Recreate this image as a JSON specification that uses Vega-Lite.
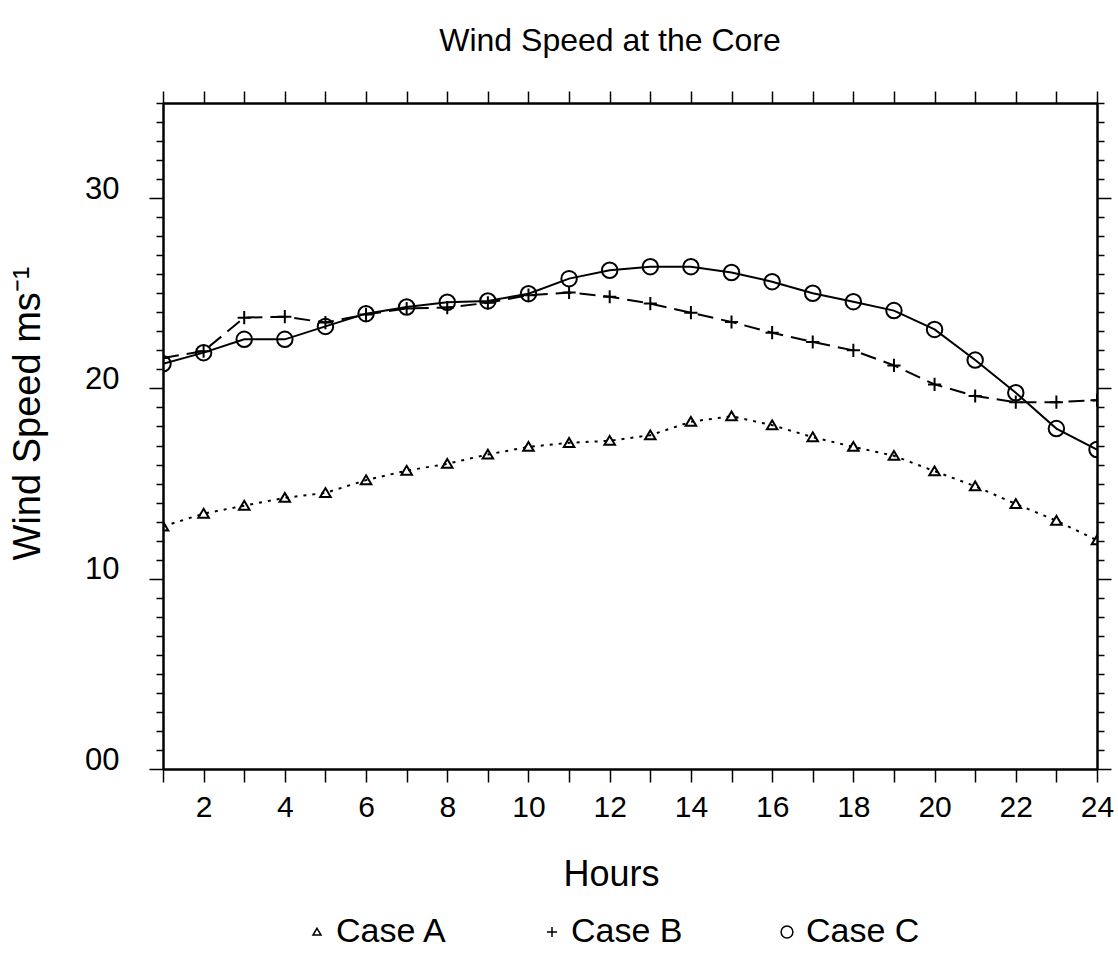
{
  "$schema": "https://vega.github.io/schema/vega-lite/v6.json",
  "autosize": "none",
  "width": 934,
  "height": 666,
  "padding": {"left": 163, "top": 103, "right": 21, "bottom": 185},
  "background": "white",
  "title": {
    "text": "Wind Speed at the Core",
    "font": "Liberation Sans",
    "fontSize": 32,
    "fontWeight": "normal",
    "color": "black",
    "anchor": "middle",
    "baseline": "alphabetic",
    "offset": -5,
    "dx": -20
  },
  "config": {
    "view": {"stroke": null},
    "axis": {"domainColor": "black", "tickColor": "black", "labelColor": "black", "titleColor": "black", "grid": false}
  },
  "data": {
    "values": [
      {"hour": 1, "case": "Case A", "speed": 12.75}, {"hour": 2, "case": "Case A", "speed": 13.42}, {"hour": 3, "case": "Case A", "speed": 13.84}, {"hour": 4, "case": "Case A", "speed": 14.25}, {"hour": 5, "case": "Case A", "speed": 14.51}, {"hour": 6, "case": "Case A", "speed": 15.18}, {"hour": 7, "case": "Case A", "speed": 15.68}, {"hour": 8, "case": "Case A", "speed": 16.04}, {"hour": 9, "case": "Case A", "speed": 16.53}, {"hour": 10, "case": "Case A", "speed": 16.93}, {"hour": 11, "case": "Case A", "speed": 17.14}, {"hour": 12, "case": "Case A", "speed": 17.25}, {"hour": 13, "case": "Case A", "speed": 17.54}, {"hour": 14, "case": "Case A", "speed": 18.25}, {"hour": 15, "case": "Case A", "speed": 18.54}, {"hour": 16, "case": "Case A", "speed": 18.07}, {"hour": 17, "case": "Case A", "speed": 17.44}, {"hour": 18, "case": "Case A", "speed": 16.93}, {"hour": 19, "case": "Case A", "speed": 16.46}, {"hour": 20, "case": "Case A", "speed": 15.65}, {"hour": 21, "case": "Case A", "speed": 14.86}, {"hour": 22, "case": "Case A", "speed": 13.93}, {"hour": 23, "case": "Case A", "speed": 13.05}, {"hour": 24, "case": "Case A", "speed": 12.02},
      {"hour": 1, "case": "Case B", "speed": 21.6}, {"hour": 2, "case": "Case B", "speed": 21.96}, {"hour": 3, "case": "Case B", "speed": 23.72}, {"hour": 4, "case": "Case B", "speed": 23.77}, {"hour": 5, "case": "Case B", "speed": 23.46}, {"hour": 6, "case": "Case B", "speed": 23.89}, {"hour": 7, "case": "Case B", "speed": 24.2}, {"hour": 8, "case": "Case B", "speed": 24.25}, {"hour": 9, "case": "Case B", "speed": 24.5}, {"hour": 10, "case": "Case B", "speed": 24.9}, {"hour": 11, "case": "Case B", "speed": 25.04}, {"hour": 12, "case": "Case B", "speed": 24.82}, {"hour": 13, "case": "Case B", "speed": 24.46}, {"hour": 14, "case": "Case B", "speed": 23.98}, {"hour": 15, "case": "Case B", "speed": 23.49}, {"hour": 16, "case": "Case B", "speed": 22.93}, {"hour": 17, "case": "Case B", "speed": 22.44}, {"hour": 18, "case": "Case B", "speed": 22.0}, {"hour": 19, "case": "Case B", "speed": 21.21}, {"hour": 20, "case": "Case B", "speed": 20.21}, {"hour": 21, "case": "Case B", "speed": 19.6}, {"hour": 22, "case": "Case B", "speed": 19.28}, {"hour": 23, "case": "Case B", "speed": 19.28}, {"hour": 24, "case": "Case B", "speed": 19.38},
      {"hour": 1, "case": "Case C", "speed": 21.3}, {"hour": 2, "case": "Case C", "speed": 21.88}, {"hour": 3, "case": "Case C", "speed": 22.58}, {"hour": 4, "case": "Case C", "speed": 22.58}, {"hour": 5, "case": "Case C", "speed": 23.26}, {"hour": 6, "case": "Case C", "speed": 23.93}, {"hour": 7, "case": "Case C", "speed": 24.28}, {"hour": 8, "case": "Case C", "speed": 24.53}, {"hour": 9, "case": "Case C", "speed": 24.6}, {"hour": 10, "case": "Case C", "speed": 24.98}, {"hour": 11, "case": "Case C", "speed": 25.77}, {"hour": 12, "case": "Case C", "speed": 26.21}, {"hour": 13, "case": "Case C", "speed": 26.4}, {"hour": 14, "case": "Case C", "speed": 26.4}, {"hour": 15, "case": "Case C", "speed": 26.09}, {"hour": 16, "case": "Case C", "speed": 25.61}, {"hour": 17, "case": "Case C", "speed": 25.0}, {"hour": 18, "case": "Case C", "speed": 24.56}, {"hour": 19, "case": "Case C", "speed": 24.09}, {"hour": 20, "case": "Case C", "speed": 23.1}, {"hour": 21, "case": "Case C", "speed": 21.49}, {"hour": 22, "case": "Case C", "speed": 19.77}, {"hour": 23, "case": "Case C", "speed": 17.89}, {"hour": 24, "case": "Case C", "speed": 16.79}
    ]
  },
  "layer": [
    {
      "transform": [{"filter": "datum.case === 'Case A'"}],
      "mark": {"type": "line", "color": "black", "strokeWidth": 2, "strokeDash": [3, 6], "clip": true},
      "encoding": {
        "x": {
          "field": "hour", "type": "quantitative",
          "scale": {"domain": [1, 24], "nice": false, "zero": false},
          "axis": {
            "orient": "bottom",
            "values": [1,2,3,4,5,6,7,8,9,10,11,12,13,14,15,16,17,18,19,20,21,22,23,24],
            "labelExpr": "datum.value % 2 === 0 ? datum.label : ''",
            "labelFont": "Liberation Sans", "labelFontSize": 30, "labelPadding": 10,
            "labelFlush": false, "labelOverlap": false, "labelBound": false,
            "tickSize": 13, "tickWidth": 1.5, "domainWidth": 2.5,
            "title": "Hours", "titleFont": "Liberation Sans", "titleFontSize": 36, "titleFontWeight": "normal",
            "titleBaseline": "alphabetic", "titleX": 448, "titleY": 116, "titleAnchor": null
          }
        },
        "y": {
          "field": "speed", "type": "quantitative",
          "scale": {"domain": [0, 35], "nice": false},
          "axis": {
            "orient": "left",
            "values": [0,1,2,3,4,5,6,7,8,9,10,11,12,13,14,15,16,17,18,19,20,21,22,23,24,25,26,27,28,29,30,31,32,33,34,35],
            "labelExpr": "datum.value % 10 === 0 ? (datum.value === 0 ? '00' : datum.label) : ''",
            "labelFont": "Liberation Sans", "labelFontSize": 31, "labelPadding": 30,
            "labelBaseline": "alphabetic", "labelOverlap": false, "labelBound": false, "labelFlush": false,
            "tickSize": {"condition": {"test": "datum.value % 10 === 0", "value": 14}, "value": 7},
            "tickWidth": 1.5, "domainWidth": 2.5,
            "title": "Wind Speed ms⁻¹", "titleFont": "Liberation Sans", "titleFontSize": 38, "titleFontWeight": "normal",
            "titleBaseline": "alphabetic", "titleX": -124, "titleY": 310, "titleAngle": -90, "titleAlign": "center"
          }
        }
      }
    },
    {
      "transform": [{"filter": "datum.case === 'Case B'"}],
      "mark": {"type": "line", "color": "black", "strokeWidth": 2, "strokeDash": [16, 8], "clip": true},
      "encoding": {
        "x": {"field": "hour", "type": "quantitative", "axis": null},
        "y": {"field": "speed", "type": "quantitative", "axis": null}
      }
    },
    {
      "transform": [{"filter": "datum.case === 'Case C'"}],
      "mark": {"type": "line", "color": "black", "strokeWidth": 2, "clip": true},
      "encoding": {
        "x": {"field": "hour", "type": "quantitative", "axis": null},
        "y": {"field": "speed", "type": "quantitative", "axis": null}
      }
    },
    {
      "mark": {"type": "point", "filled": false, "color": "black", "strokeWidth": 2, "opacity": 1, "size": 240, "clip": true},
      "encoding": {
        "x": {
          "field": "hour", "type": "quantitative",
          "axis": {
            "orient": "top",
            "values": [1,2,3,4,5,6,7,8,9,10,11,12,13,14,15,16,17,18,19,20,21,22,23,24],
            "labels": false, "tickSize": 12, "tickWidth": 1.5, "domainWidth": 2.5, "title": null
          }
        },
        "y": {
          "field": "speed", "type": "quantitative",
          "axis": {
            "orient": "right",
            "values": [0,1,2,3,4,5,6,7,8,9,10,11,12,13,14,15,16,17,18,19,20,21,22,23,24,25,26,27,28,29,30,31,32,33,34,35],
            "labels": false,
            "tickSize": {"condition": {"test": "datum.value % 10 === 0", "value": 14}, "value": 7},
            "tickWidth": 1.5, "domainWidth": 2.5, "title": null
          }
        },
        "shape": {
          "field": "case", "type": "nominal",
          "scale": {"domain": ["Case A", "Case B", "Case C"], "range": ["M0,-0.62L0.68,0.52L-0.68,0.52Z", "M-0.85,0L0.85,0M0,-0.85L0,0.85", "M-1,0A1,1 0 1,1 1,0A1,1 0 1,1 -1,0Z"]},
          "legend": {
            "orient": "none", "legendX": 137, "legendY": 812, "direction": "horizontal",
            "title": null, "padding": 0,
            "labelFont": "Liberation Sans", "labelFontSize": 34, "labelColor": "black",
            "labelOffset": 2, "columnPadding": 87,
            "symbolSize": 140, "symbolStrokeWidth": 1.5, "symbolStrokeColor": "black", "symbolFillColor": "transparent", "symbolOpacity": 1
          }
        }
      }
    }
  ],
  "resolve": {"axis": {"x": "independent", "y": "independent"}}
}
